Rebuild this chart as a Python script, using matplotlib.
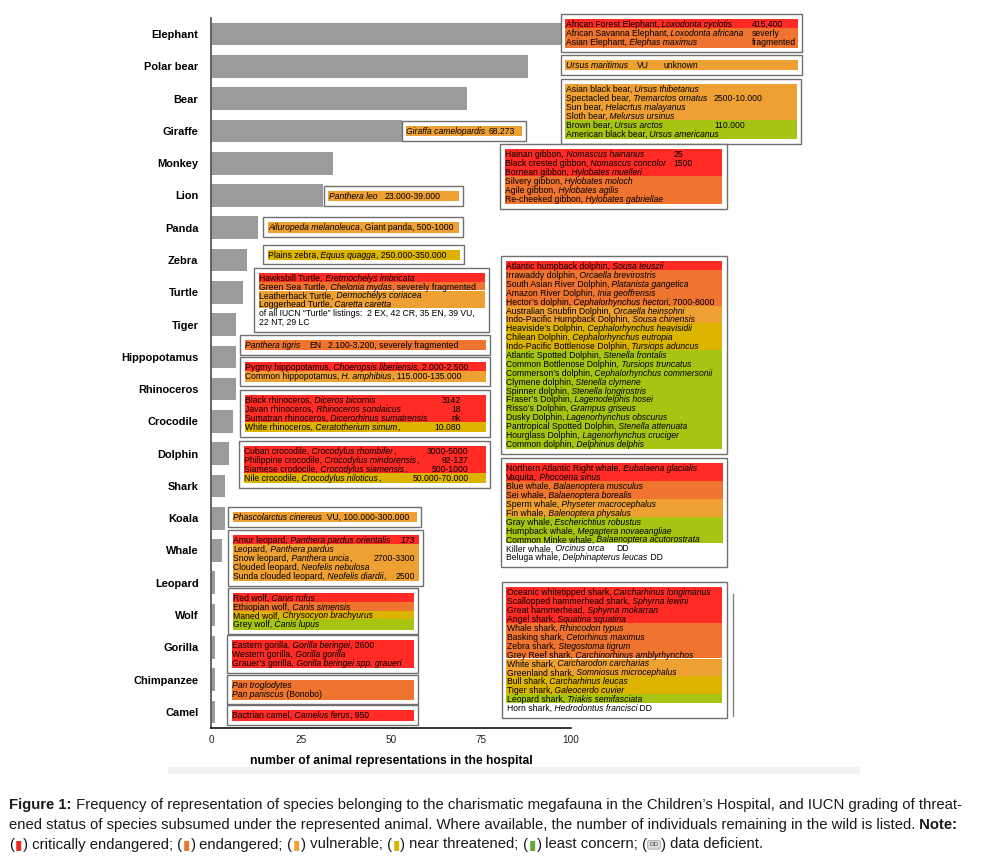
import matplotlib
matplotlib.use("Agg")
import matplotlib.pyplot as plt
from matplotlib import transforms as mtransforms, font_manager
from matplotlib.patches import Rectangle
from matplotlib.lines import Line2D

plt.rcParams['font.family'] = ['Liberation Sans', 'DejaVu Sans']

# ---------------- data ----------------
CATEGORIES = ["Elephant", "Polar bear", "Bear", "Giraffe", "Monkey", "Lion", "Panda",
              "Zebra", "Turtle", "Tiger", "Hippopotamus", "Rhinoceros", "Crocodile",
              "Dolphin", "Shark", "Koala", "Whale", "Leopard", "Wolf", "Gorilla",
              "Chimpanzee", "Camel"]
COUNTS = [100, 88, 71, 53, 34, 31, 13, 10, 9, 7, 7, 7, 6, 5, 4, 4, 3, 1, 1, 1, 1, 1]
XTICKS = [0, 25, 50, 75, 100]
XLABEL = "number of animal representations in the hospital"

# species lines: (IUCN status, text with *italic* markup, notes)
ELEPHANT = [("CR", "African Forest Elephant, *Loxodonta cyclotis*", ("415,400",)),
            ("EN", "African Savanna Elephant, *Loxodonta africana*", ("severly",)),
            ("EN", "Asian Elephant, *Elephas maximus*", ("fragmented",))]
POLAR_BEAR = [("VU", "*Ursus maritimus*", ("VU", "unknown"))]
BEAR = [("VU", "Asian black bear, *Ursus thibetanus*", ()),
        ("VU", "Spectacled bear, *Tremarctos ornatus*", ("2500-10.000",)),
        ("VU", "Sun bear, *Helacrtus malayanus*", ()),
        ("VU", "Sloth bear, *Melursus ursinus*", ()),
        ("LC", "Brown bear, *Ursus arctos*", ("110.000",)),
        ("LC", "American black bear, *Ursus americanus*", ())]
GIRAFFE = [("VU", "*Giraffa camelopardis*", ("68.273",))]
MONKEY = [("CR", "Hainan gibbon, *Nomascus hainanus*", ("25",)),
          ("CR", "Black crested gibbon, *Nomascus concolor*", ("1500",)),
          ("CR", "Bornean gibbon, *Hylobates muelleri*", ()),
          ("EN", "Silvery gibbon, *Hylobates moloch*", ()),
          ("EN", "Agile gibbon, *Hylobates agilis*", ()),
          ("EN", "Re-cheeked gibbon, *Hylobates gabriellae*", ())]
LION = [("VU", "*Panthera leo*", ("23.000-39.000",))]
PANDA = [("VU", "*Ailuropeda melanoleuca*, Giant panda, 500-1000", ())]
ZEBRA = [("NT", "Plains zebra, *Equus quagga*, 250.000-350.000", ())]
TURTLE = [("CR", "Hawksbill Turtle, *Eretmochelys imbricata*", ()),
          ("EN", "Green Sea Turtle, *Chelonia mydas*, severely fragmented", ()),
          ("VU", "Leatherback Turtle, *Dermochelys coriacea*", ()),
          ("VU", "Loggerhead Turtle, *Caretta caretta*", ()),
          ("", "of all IUCN \u201cTurtle\u201d listings:  2 EX, 42 CR, 35 EN, 39 VU,", ()),
          ("", "22 NT, 29 LC", ())]
TIGER = [("EN", "*Panthera tigris*", ("EN", "2.100-3.200, severely fragmented"))]
HIPPO = [("CR", "Pygmy hippopotamus, *Choeropsis liberiensis*, 2.000-2.500", ()),
         ("VU", "Common hippopotamus, *H. amphibius*, 115.000-135.000", ())]
RHINO = [("CR", "Black rhinoceros, *Diceros bicornis*", ("3142",)),
         ("CR", "Javan rhinoceros, *Rhinoceros sondaicus*", ("18",)),
         ("CR", "Sumatran rhinoceros, *Dicerorhinus sumatrensis*", ("nk",)),
         ("NT", "White rhinoceros, *Ceratotherium simum*,", ("10.080",))]
CROCODILE = [("CR", "Cuban crocodile, *Crocodylus rhombifer*,", ("3000-5000",)),
             ("CR", "Philippine crocodile, *Crocodylus mindorensis*,", ("92-137",)),
             ("CR", "Siamese crodocile, *Crocodylus siamensis*,", ("500-1000",)),
             ("NT", "Nile crocodile, *Crocodylus niloticus*,", ("50.000-70.000",))]
KOALA = [("VU", "*Phascolarctus cinereus*  VU, 100.000-300.000", ())]
LEOPARD = [("CR", "Amur leopard, *Panthera pardus orientalis*", ("*173*",)),
           ("VU", "Leopard, *Panthera pardus*", ()),
           ("VU", "Snow leopard, *Panthera uncia*,", ("2700-3300",)),
           ("VU", "Clouded leopard, *Neofelis nebulosa*", ()),
           ("VU", "Sunda clouded leopard, *Neofelis diardii*,", ("2500",))]
WOLF = [("CR", "Red wolf, *Canis rufus*", ()),
        ("EN", "Ethiopian wolf, *Canis simensis*", ()),
        ("NT", "Maned wolf, *Chrysocyon brachyurus*", ()),
        ("LC", "Grey wolf, *Canis lupus*", ())]
GORILLA = [("CR", "Eastern gorilla, *Gorilla beringei*, 2600", ()),
           ("CR", "Western gorilla, *Gorilla gorilla*", ()),
           ("CR", "Grauer\u2019s gorilla, *Gorilla beringei spp. graueri*", ())]
CHIMPANZEE = [("EN", "*Pan troglodytes*", ()),
              ("EN", "*Pan paniscus* (Bonobo)", ())]
CAMEL = [("CR", "Bactrian camel, *Camelus ferus*, 950", ())]
DOLPHIN = [("CR", "Atlantic humpback dolphin, *Sousa teuszii*", ()),
           ("EN", "Irrawaddy dolphin, *Orcaella brevirostris*", ()),
           ("EN", "South Asian River Dolphin, *Platanista gangetica*", ()),
           ("EN", "Amazon River Dolphin, *Inia geoffrensis*", ()),
           ("EN", "Hector\u2019s dolphin, *Cephalorhynchus hectori*, 7000-8000", ()),
           ("VU", "Australian Snubfin Dolphin, *Orcaella heinsohni*", ()),
           ("VU", "Indo-Pacific Humpback Dolphin, *Sousa chinensis*", ()),
           ("NT", "Heaviside\u2019s Dolphin, *Cephalorhynchus heavisidii*", ()),
           ("NT", "Chilean Dolphin, *Cephalorhynchus eutropia*", ()),
           ("NT", "Indo-Pacific Bottlenose Dolphin, *Tursiops aduncus*", ()),
           ("LC", "Atlantic Spotted Dolphin, *Stenella frontalis*", ()),
           ("LC", "Common Bottlenose Dolphin, *Tursiops truncatus*", ()),
           ("LC", "Commerson\u2019s dolphin, *Cephalorhynchus commersonii*", ()),
           ("LC", "Clymene dolphin, *Stenella clymene*", ()),
           ("LC", "Spinner dolphin, *Stenella longirostris*", ()),
           ("LC", "Fraser\u2019s Dolphin, *Lagenodelphis hosei*", ()),
           ("LC", "Risso\u2019s Dolphin, *Grampus griseus*", ()),
           ("LC", "Dusky Dolphin, *Lagenorhynchus obscurus*", ()),
           ("LC", "Pantropical Spotted Dolphin, *Stenella attenuata*", ()),
           ("LC", "Hourglass Dolphin, *Lagenorhynchus cruciger*", ()),
           ("LC", "Common dolphin, *Delphinus delphis*", ())]
WHALE = [("CR", "Northern Atlantic Right whale, *Eubalaena glacialis*", ()),
         ("CR", "Vaquita, *Phocoena sinus*", ()),
         ("EN", "Blue whale, *Balaenoptera musculus*", ()),
         ("EN", "Sei whale, *Balaenoptera borealis*", ()),
         ("VU", "Sperm whale, *Physeter macrocephalus*", ()),
         ("VU", "Fin whale, *Balenoptera physalus*", ()),
         ("LC", "Gray whale, *Escherichtius robustus*", ()),
         ("LC", "Humpback whale, *Megaptera novaeangliae*", ()),
         ("LC", "Common Minke whale, *Balaenoptera acutorostrata*", ()),
         ("DD", "Killer whale, *Orcinus orca*", ("DD",)),
         ("DD", "Beluga whale, *Delphinapterus leucas* DD", ())]
SHARK = [("CR", "Oceanic whitetipped shark, *Carcharhinus longimanus*", ()),
         ("CR", "Scallopped hammerhead shark, *Sphyrna lewini*", ()),
         ("CR", "Great hammerhead, *Sphyrna mokarran*", ()),
         ("CR", "Angel shark, *Squatina squatina*", ()),
         ("EN", "Whale shark, *Rhincodon typus*", ()),
         ("EN", "Basking shark, *Cetorhinus maximus*", ()),
         ("EN", "Zebra shark, *Stegostoma tigrum*", ()),
         ("EN", "Grey Reef shark, *Carchinorhinus amblyrhynchos*", ()),
         ("VU", "White shark, *Carcharodon carcharias*", ()),
         ("VU", "Greenland shark, *Somniosus microcephalus*", ()),
         ("NT", "Bull shark, *Carcharhinus leucas*", ()),
         ("NT", "Tiger shark, *Galeocerdo cuvier*", ()),
         ("LC", "Leopard shark, *Triakis semifasciata*", ()),
         ("DD", "Horn shark, *Hedrodontus francisci* DD", ())]

CAPTION_1 = [("Figure 1:", "bold"),
             (" Frequency of representation of species belonging to the charismatic megafauna in the "
              "Children\u2019s Hospital, and IUCN grading of threat-", "normal")]
CAPTION_2 = [("ened status of species subsumed under the represented animal. Where available, the number "
              "of individuals remaining in the wild is listed.", "normal"), (" Note:", "bold")]
LEGEND_ITEMS = [("CR", "critically endangered;"), ("EN", "endangered;"), ("VU", "vulnerable;"),
                ("NT", "near threatened;"), ("LC", "least concern;"), ("DD", "data deficient.")]

# ---------------- styles ----------------
STATUS_COLORS = {"CR": "#ff2b24", "EN": "#ee7430", "VU": "#eea033", "NT": "#dcb400", "LC": "#a8c412"}
LEGEND_COLORS = {"CR": "#ee2a24", "EN": "#ee7430", "VU": "#eea033", "NT": "#dcb400", "LC": "#5ea83a"}

W, H = 989, 864
fig = plt.figure(figsize=(W / 100, H / 100), dpi=100, facecolor="white")
# pixel layout transform (origin top-left)
T = mtransforms.Affine2D().scale(1 / W, -1 / H).translate(0, 1) + fig.transFigure
renderer = fig.canvas.get_renderer()

ax = fig.add_axes([211 / W, 1 - 728 / H, 360 / W, 710 / H])
ypos = list(range(len(CATEGORIES)))
ax.barh(ypos, COUNTS, height=0.7, color="#9b9b9b", zorder=2)
ax.set_ylim(len(CATEGORIES) - 0.5, -0.5)
ax.set_xlim(0, 100)
ax.set_yticks(ypos)
ax.set_yticklabels(CATEGORIES, fontsize=7.9, fontweight="bold")
ax.set_xticks(XTICKS)
ax.set_xticklabels([str(v) for v in XTICKS], fontsize=7.2, color="#222222")
ax.tick_params(axis="y", length=0, pad=9)
ax.tick_params(axis="x", length=0, pad=5)
ax.set_xlabel(XLABEL, fontsize=8.7, fontweight="bold", labelpad=7)
for s in ("top", "right"):
    ax.spines[s].set_visible(False)
ax.spines["left"].set_color("#5a5a5a")
ax.spines["left"].set_linewidth(1.3)
ax.spines["bottom"].set_color("#111111")
ax.spines["bottom"].set_linewidth(1.2)

# ---------------- helpers ----------------
def parse(markup):
    parts = markup.split("*")
    segs = [[p, "italic" if i % 2 else "normal"] for i, p in enumerate(parts)]
    for i in range(len(segs) - 1):   # move trailing spaces to the next segment
        t = segs[i][0]
        stripped = t.rstrip(" ")
        if stripped != t:
            segs[i][0] = stripped
            segs[i + 1][0] = t[len(stripped):] + segs[i + 1][0]
    return [(t, {"style": st}) for t, st in segs if t != ""]


def write_line(x, y, segs, fs, family, color="black", ha="left"):
    """Write text segments one after another on a common baseline y (pixel layout)."""
    arts = []
    if ha == "right":
        text, props = segs[0]
        kw = dict(fontsize=fs, family=family, color=color, zorder=5)
        kw.update(props)
        arts.append(fig.text(x, y, text, transform=T, ha="right", va="baseline", **kw))
        return arts
    cur = x
    for text, props in segs:
        kw = dict(fontsize=fs, family=family, color=color, zorder=5)
        props = dict(props)
        dx = props.pop("dx", 0)
        dy = props.pop("dy", 0)
        kw.update(props)
        t = fig.text(cur + dx, y + dy, text, transform=T, ha="left", va="baseline", **kw)
        cur = t.get_window_extent(renderer).x1 + props.get("post", 0)
        arts.append(t)
    return arts


BOX_FS = 6.25
LH = 8.9
BOX_FONT = ["Liberation Sans", "DejaVu Sans"]


def draw_box(lines, x0, x1, top, note_xs=(), note_ha="left"):
    n = len(lines)
    inner_top = top + 5
    bottom = inner_top + n * LH + 1.5 + 4.5
    fig.add_artist(Rectangle((x0, top), x1 - x0, bottom - top, transform=T, fc="white",
                             ec="#707070", lw=1.0, zorder=3))
    for i, (st, markup, notes) in enumerate(lines):
        y0 = inner_top + i * LH
        h = LH + (1.5 if i == n - 1 else 0)
        if st in STATUS_COLORS:
            fig.add_artist(Rectangle((x0 + 4.5, y0), (x1 - x0) - 9, h, transform=T,
                                     fc=STATUS_COLORS[st], ec="none", zorder=4))
        base = y0 + 8.0
        write_line(x0 + 5, base, parse(markup), BOX_FS, BOX_FONT)
        for j, note in enumerate(notes):
            write_line(note_xs[j], base, parse(note), BOX_FS, BOX_FONT, ha=note_ha)


# ---------------- annotation boxes (layout in pixels) ----------------
BOXES = [
    (ELEPHANT, 560.7, 802.3, 14.3, (751.7,), "left"),
    (POLAR_BEAR, 560.7, 802.3, 55.0, (636.7, 663.0), "left"),
    (BEAR, 560.7, 801.3, 79.3, (714.0,), "left"),
    (GIRAFFE, 401.5, 526.0, 120.7, (489.0,), "left"),
    (MONKEY, 500.0, 726.7, 144.3, (673.5,), "left"),
    (LION, 323.7, 463.0, 185.7, (384.7,), "left"),
    (PANDA, 263.0, 463.0, 217.3, (), "left"),
    (ZEBRA, 263.0, 464.0, 244.5, (), "left"),
    (TURTLE, 254.3, 489.0, 267.7, (), "left"),
    (TIGER, 240.0, 490.0, 335.0, (309.0, 327.7), "left"),
    (HIPPO, 240.0, 490.0, 357.3, (), "left"),
    (RHINO, 240.0, 490.0, 390.0, (460.7,), "right"),
    (CROCODILE, 239.3, 490.0, 441.0, (468.7,), "right"),
    (KOALA, 228.3, 421.0, 506.7, (), "left"),
    (LEOPARD, 228.3, 423.3, 530.0, (415.0,), "right"),
    (WOLF, 228.3, 418.3, 587.7, (), "left"),
    (GORILLA, 227.3, 418.3, 635.3, (), "left"),
    (CHIMPANZEE, 227.3, 418.3, 675.3, (), "left"),
    (CAMEL, 227.3, 418.3, 705.3, (), "left"),
    (DOLPHIN, 501.0, 726.7, 256.0, (), "left"),
    (WHALE, 501.0, 727.3, 458.3, (616.7,), "left"),
    (SHARK, 501.7, 726.7, 582.3, (), "left"),
]
for lines, x0, x1, top, nx, nha in BOXES:
    draw_box(lines, x0, x1, top, nx, nha)

fig.add_artist(Line2D([733.3, 733.3], [594, 716], transform=T, color="#808080", lw=1.0))
fig.add_artist(Rectangle((168, 767), 692, 7, transform=T, fc="#f2f2f2", ec="none", zorder=1))

# ---------------- caption ----------------
names = {f.name for f in font_manager.fontManager.ttflist}
CAPFONT = ["Liberation Sans Narrow", "DejaVu Sans"] if "Liberation Sans Narrow" in names \
    else ["Liberation Sans", "DejaVu Sans"]


def cap_segs(items):
    return [(t, {"fontweight": w}) for t, w in items]


test = write_line(9, 809, cap_segs(CAPTION_1), 10, CAPFONT, color="#1a1a1a")
wtest = test[-1].get_window_extent(renderer).x1 - test[0].get_window_extent(renderer).x0
for a in test:
    a.remove()
CAP_FS = 10 * 959 / wtest

write_line(9, 809.5, cap_segs(CAPTION_1), CAP_FS, CAPFONT, color="#1a1a1a")
write_line(9, 829, cap_segs(CAPTION_2), CAP_FS, CAPFONT, color="#1a1a1a")

leg = []
for k, (st, label) in enumerate(LEGEND_ITEMS):
    leg.append(("(" if k == 0 else " (", {}))
    if st == "DD":
        leg.append(("DD", {"fontsize": CAP_FS * 0.42, "color": "#444444", "dx": 2.2, "dy": -2.2,
                           "bbox": dict(boxstyle="round,pad=0.3", fc="#dcdcdc", ec="#999999", lw=0.5)}))
        leg.append((")", {"dx": 2.2}))
    else:
        leg.append(("\u25ae", {"color": LEGEND_COLORS[st], "family": "DejaVu Sans",
                               "fontsize": CAP_FS * 0.9, "dx": 0.6, "dy": -0.3}))
        leg.append((")", {"dx": 0.6}))
    leg.append((" " + label, {}))
write_line(9, 848.5, leg, CAP_FS, CAPFONT, color="#1a1a1a")

fig.savefig("out.png", dpi=100, facecolor="white")
